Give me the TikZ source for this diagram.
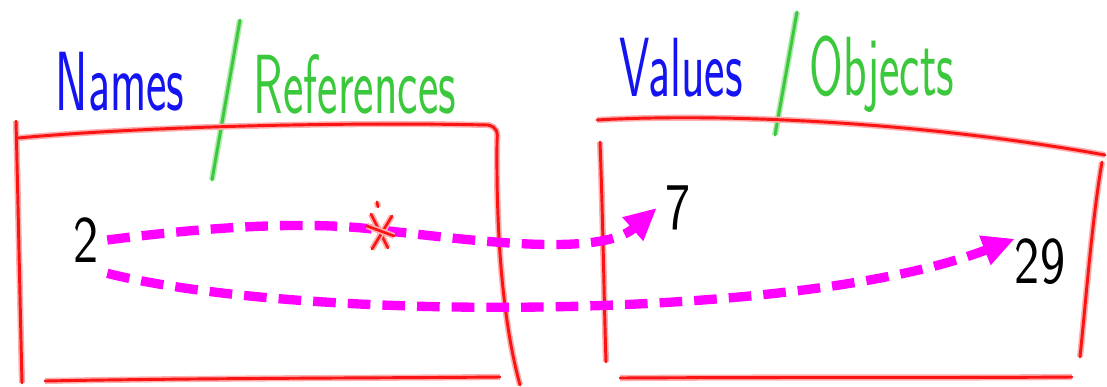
\documentclass[tikz,border=0pt]{standalone}
\usepackage{xcolor}
\usepackage{tikz}
\usetikzlibrary{arrows.meta,positioning}
\definecolor{inkred}{RGB}{250,20,20}
\definecolor{inkblue}{RGB}{20,20,240}
\definecolor{inkgreen}{RGB}{60,200,60}
\definecolor{inkpink}{RGB}{255,0,255}
\tikzset{
  redink/.style={draw=inkred,line width=2.2pt,line cap=round,line join=round,
    preaction={draw=inkred!35,line width=4.6pt}},
  greenink/.style={draw=inkgreen,line width=2.2pt,line cap=round,
    preaction={draw=inkgreen!40,line width=4.6pt}},
  hand/.style={font=\sffamily\fontsize{63}{63}\selectfont,inner sep=0pt,
    xscale=0.58,transform shape},
  digit/.style={font=\sffamily\fontsize{50}{50}\selectfont,inner sep=8pt,
    text=black,xscale=0.8,transform shape},
  refflow/.style={-{Triangle[length=24pt,width=22pt]},draw=inkpink,
    line width=7pt,dash pattern=on 17pt off 9pt}
}
\begin{document}
\begin{tikzpicture}[x=0.75pt,y=-0.75pt]
  \useasboundingbox (0,0) rectangle (1107,386);
  % headings
  \node[hand,text=inkblue] (names) at (120,82) {Names};
  \node[hand,text=inkgreen] (refs) at (355,84) {References};
  \node[hand,text=inkblue] (values) at (681,68) {Values};
  \node[hand,text=inkgreen] (objects) at (882,74) {Objects};
  \draw[greenink] (240,20) -- (212,180);
  \draw[greenink] (797,12) -- (775,135);
  % left box
  \draw[redink] (16,121) .. controls (18,200) and (20,300) .. (22,383);
  \draw[redink] (18,138) .. controls (150,126) and (350,122) .. (488,125)
    .. controls (497,127) and (498,132) .. (497,142)
    .. controls (496,250) and (505,330) .. (520,385);
  \draw[redink] (45,381) .. controls (200,378) and (400,378) .. (500,377);
  % right box
  \draw[redink] (597,120) .. controls (700,114) and (900,118) .. (1105,155);
  \draw[redink] (600,142) .. controls (603,220) and (604,300) .. (606,362);
  \draw[redink] (1102,162) .. controls (1092,220) and (1086,300) .. (1080,357);
  \draw[redink] (620,378) .. controls (800,377) and (950,378) .. (1072,377);
  % contents
  \node[digit] (n2) at (86,240) {2};
  \node[digit] (n7) at (678,208) {7};
  \node[digit,inner sep=0pt] (n29) at (1040,262) {29};
  \coordinate (cut) at (380,230);
  \draw[refflow] (n2.east) .. controls (230,224) and (320,222) .. (cut)
    .. controls (470,240) and (600,258) .. (n7.west);
  \draw[refflow] (n2.south east) .. controls (300,322) and (800,322) .. (n29.north west);
  \draw[redink,line width=2pt] ([shift={(-9,-16)}]cut) -- ([shift={(8,18)}]cut);
  \draw[redink,line width=2pt] ([shift={(12,-14)}]cut) -- ([shift={(-8,19)}]cut);
  \draw[redink,line width=2pt] ([shift={(-13,-4)}]cut) -- ([shift={(14,6)}]cut);
  \draw[redink,line width=2pt] ([shift={(-3,-28)}]cut) -- ([shift={(-2,-23)}]cut);
\end{tikzpicture}
\end{document}
